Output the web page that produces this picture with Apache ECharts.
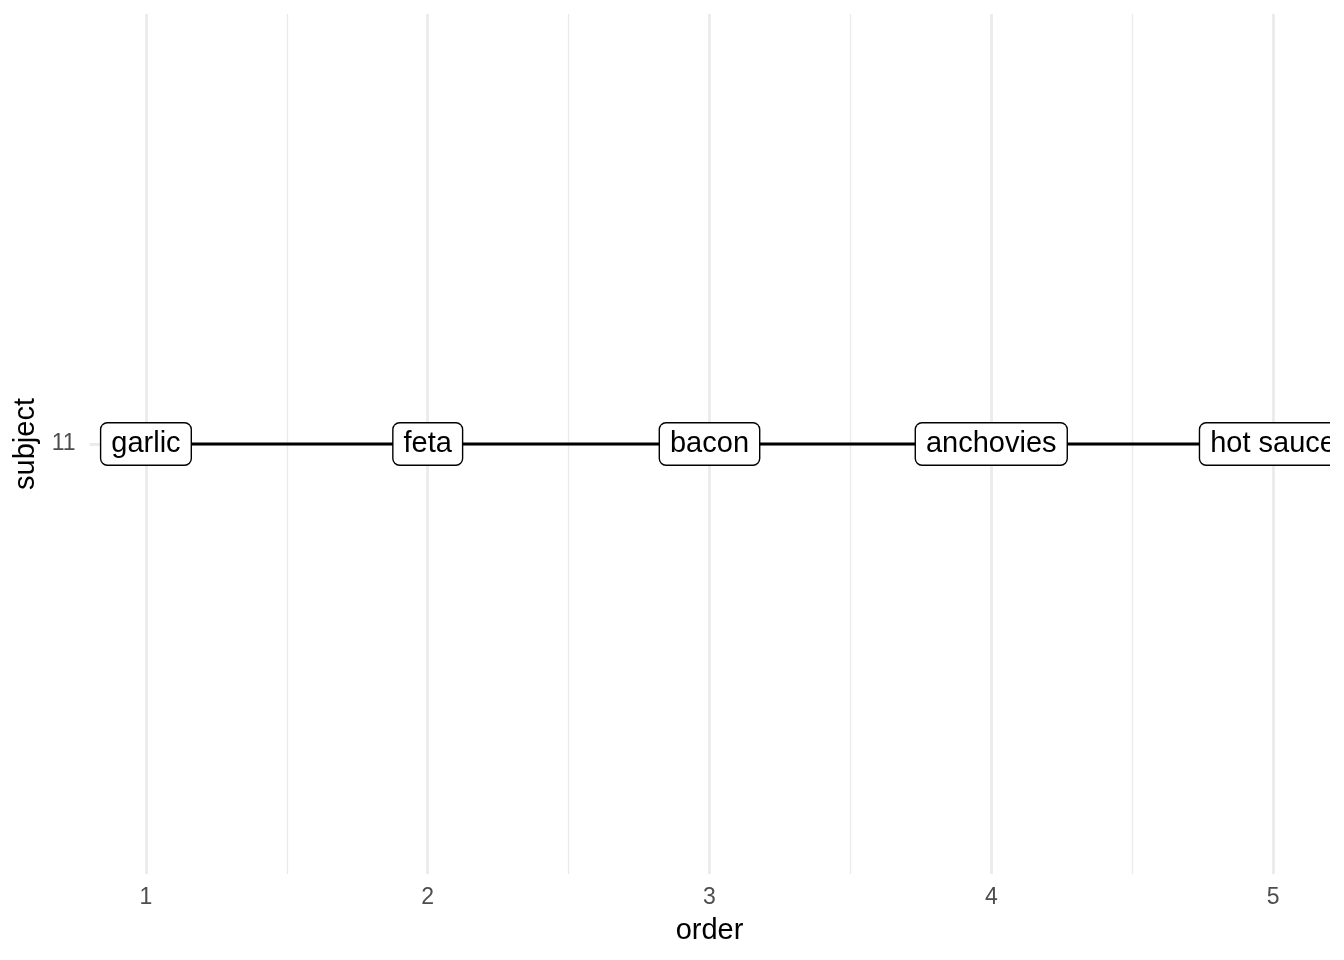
<!DOCTYPE html>
<html><head><meta charset="utf-8">
<script src="https://cdn.jsdelivr.net/npm/echarts@6/dist/echarts.min.js"></script>
<style>html,body{margin:0;padding:0;background:#fff}#c{width:1344px;height:960px}</style>
</head><body><div id="c"></div>
<script>
const subjects = ['11'];
const orders = [1, 2, 3, 4, 5];
const items = ['garlic', 'feta', 'bacon', 'anchovies', 'hot sauce'];
const xTicks = [1, 2, 3, 4, 5];
const xMinor = [1.5, 2.5, 3.5, 4.5];

const FONT = '"Liberation Sans", Arial, sans-serif';
const pts = orders.map((o, i) => [o, subjects[0], items[i]]);

const chart = echarts.init(document.getElementById('c'));
chart.setOption({
  animation: false,
  backgroundColor: '#fff',
  grid: { left: 89.6, right: 14.6, top: 14, bottom: 86 },
  xAxis: {
    type: 'value', min: 0.8, max: 5.2,
    name: 'order', nameLocation: 'middle', nameGap: 57,
    nameTextStyle: { fontFamily: FONT, fontSize: 29, color: '#000', verticalAlign: 'middle' },
    axisLine: { show: false }, axisTick: { show: false },
    splitLine: { show: false },
    axisLabel: { customValues: xTicks, fontFamily: FONT, fontSize: 23, color: '#4d4d4d', margin: 12 }
  },
  yAxis: {
    type: 'category', data: subjects,
    name: 'subject', nameLocation: 'middle', nameGap: 59, nameRotate: 90,
    nameTextStyle: { fontFamily: FONT, fontSize: 29, color: '#000', verticalAlign: 'middle' },
    axisLine: { show: false }, axisTick: { show: false },
    splitLine: { show: false },
    axisLabel: { fontFamily: FONT, fontSize: 23, color: '#4d4d4d', margin: 14, padding: [6, 0, 0, 0] }
  },
  series: [
    {
      type: 'line', data: [], z: 0, silent: true,
      markLine: {
        silent: true, symbol: 'none', label: { show: false }, animation: false, z: 0,
        data: [
          ...xMinor.map(v => ({ xAxis: v, lineStyle: { color: '#ebebeb', width: 1.4, type: 'solid' } })),
          ...xTicks.map(v => ({ xAxis: v, lineStyle: { color: '#ebebeb', width: 2.8, type: 'solid' } })),
          ...subjects.map(v => ({ yAxis: v, lineStyle: { color: '#ebebeb', width: 2.8, type: 'solid' } }))
        ]
      }
    },
    {
      type: 'line', z: 2, symbol: 'none', silent: true,
      data: pts.map(p => [p[0], p[1]]),
      lineStyle: { color: '#000', width: 2.8 }
    },
    {
      type: 'custom', z: 3, clip: true, silent: true,
      data: pts,
      encode: { x: 0, y: 1 },
      renderItem: function (params, api) {
        const c = api.coord([api.value(0), api.value(1)]);
        return {
          type: 'text',
          x: c[0], y: c[1],
          z2: 10,
          style: {
            text: items[params.dataIndex],
            fontFamily: FONT, fontSize: 29, fill: '#000',
            align: 'center', verticalAlign: 'middle',
            lineHeight: 29,
            backgroundColor: '#fff', borderColor: '#000', borderWidth: 1.4,
            borderRadius: 6, padding: [11, 10, 1, 10]
          }
        };
      }
    }
  ]
});
</script></body></html>
